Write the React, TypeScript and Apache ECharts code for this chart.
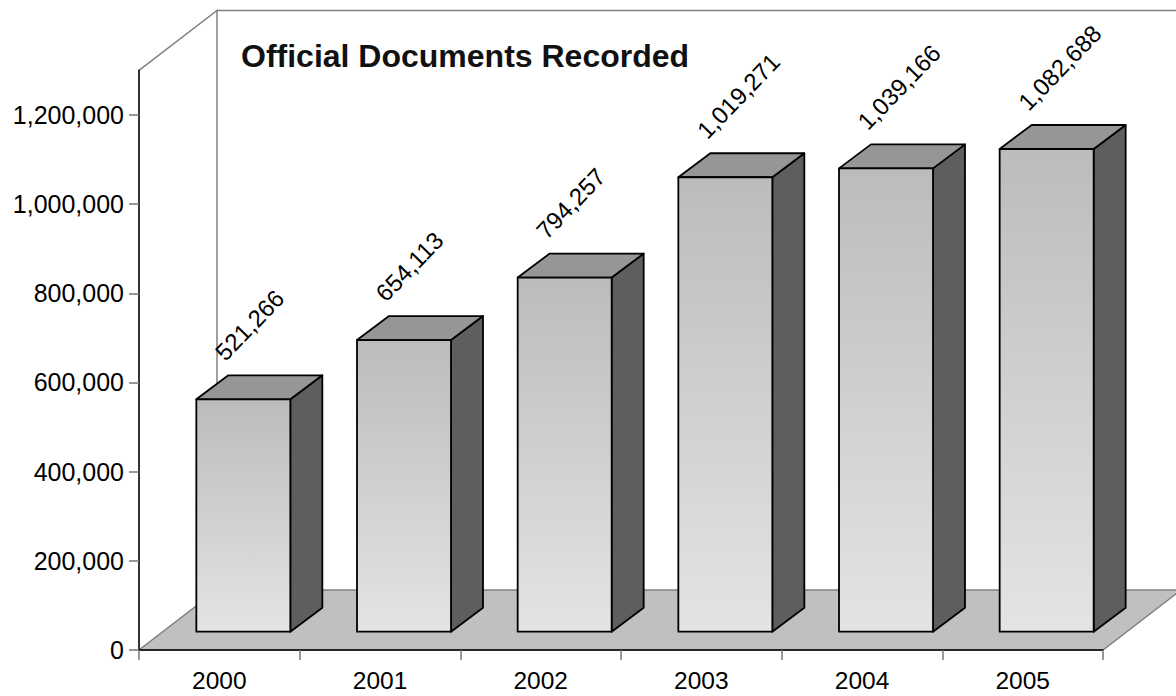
import React, { useEffect, useRef } from "react";
import * as echarts from "echarts";

// Yearly totals of recorded official documents
const categories = ["2000", "2001", "2002", "2003", "2004", "2005"];
const documents = [521266, 654113, 794257, 1019271, 1039166, 1082688];
const yTicks = [0, 200000, 400000, 600000, 800000, 1000000, 1200000];
const yMax = 1300000;

const FONT = "'Liberation Sans', Arial, Helvetica, sans-serif";

// Oblique projection used for the 3D look (pixels)
const WALL_DX = 78;
const WALL_DY = -60;
const BAR_FRONT_DX = 24;
const BAR_FRONT_DY = -18.3;
const BAR_DEPTH_DX = 32;
const BAR_DEPTH_DY = -24;
const BAR_WIDTH_RATIO = 0.585;

const fmt = (v: number) => v.toLocaleString("en-US");

export default function App() {
  const ref = useRef<HTMLDivElement>(null);

  useEffect(() => {
    if (!ref.current) return;
    const chart = echarts.init(ref.current, undefined, { renderer: "svg" });

    const wallRender = (_params: any, api: any) => {
      const band = api.size([1, 0])[0];
      const first = api.coord([0, 0]);
      const last = api.coord([categories.length - 1, 0]);
      const top = api.coord([0, yMax]);
      const L = first[0] - band / 2;
      const R = last[0] + band / 2;
      const B = first[1];
      const T = top[1];
      const wall = { stroke: "#808080", lineWidth: 1.5 };
      return {
        type: "group",
        children: [
          {
            type: "polygon",
            shape: {
              points: [
                [L, B],
                [R, B],
                [R + WALL_DX, B + WALL_DY],
                [L + WALL_DX, B + WALL_DY],
              ],
            },
            style: { fill: "#c0c0c0", stroke: "#808080", lineWidth: 1.5 },
          },
          {
            type: "polyline",
            shape: {
              points: [
                [L + WALL_DX, B + WALL_DY],
                [L + WALL_DX, T + WALL_DY],
                [L, T],
              ],
            },
            style: { ...wall, fill: "none" },
          },
          {
            type: "polyline",
            shape: {
              points: [
                [L + WALL_DX, T + WALL_DY],
                [R + WALL_DX, T + WALL_DY],
                [R + WALL_DX, B + WALL_DY],
              ],
            },
            style: { ...wall, fill: "none" },
          },
        ],
      };
    };

    const barRender = (_params: any, api: any) => {
      const idx = api.value(0);
      const val = api.value(1);
      const topPt = api.coord([idx, val]);
      const basePt = api.coord([idx, 0]);
      const band = api.size([1, 0])[0];
      const w = band * BAR_WIDTH_RATIO;
      const cx = topPt[0] + BAR_FRONT_DX;
      const x0 = cx - w / 2;
      const x1 = cx + w / 2;
      const yT = topPt[1] + BAR_FRONT_DY;
      const yB = basePt[1] + BAR_FRONT_DY;
      const edge = { stroke: "#000", lineWidth: 1.8, lineJoin: "round" };
      return {
        type: "group",
        children: [
          {
            type: "polygon",
            shape: {
              points: [
                [x1, yT],
                [x1 + BAR_DEPTH_DX, yT + BAR_DEPTH_DY],
                [x1 + BAR_DEPTH_DX, yB + BAR_DEPTH_DY],
                [x1, yB],
              ],
            },
            style: { fill: "#5e5e5e", ...edge },
          },
          {
            type: "polygon",
            shape: {
              points: [
                [x0, yT],
                [x1, yT],
                [x1 + BAR_DEPTH_DX, yT + BAR_DEPTH_DY],
                [x0 + BAR_DEPTH_DX, yT + BAR_DEPTH_DY],
              ],
            },
            style: { fill: "#969696", ...edge },
          },
          {
            type: "rect",
            shape: { x: x0, y: yT, width: w, height: yB - yT },
            style: {
              fill: new echarts.graphic.LinearGradient(0, 0, 0, 1, [
                { offset: 0, color: "#bcbcbc" },
                { offset: 1, color: "#e4e4e4" },
              ]),
              ...edge,
            },
          },
          {
            type: "text",
            x: cx - 24,
            y: yT - 43,
            rotation: (46 * Math.PI) / 180,
            style: {
              text: fmt(val),
              textAlign: "left",
              textVerticalAlign: "middle",
              fontSize: 24,
              fontFamily: FONT,
              fill: "#000",
            },
          },
        ],
      };
    };

    chart.setOption({
      animation: false,
      backgroundColor: "#fff",
      title: {
        text: "Official Documents Recorded",
        left: 241,
        top: 40,
        padding: 0,
        textStyle: {
          fontSize: 32,
          fontWeight: "bold",
          fontFamily: FONT,
          color: "#111",
        },
      },
      grid: { left: 139, right: 73, top: 70.4, bottom: 46 },
      xAxis: {
        type: "category",
        data: categories,
        boundaryGap: true,
        z: 5,
        axisLine: { lineStyle: { color: "#000", width: 1.6 } },
        axisTick: {
          show: true,
          length: 10,
          alignWithLabel: false,
          lineStyle: { color: "#777", width: 1.5 },
        },
        axisLabel: {
          fontSize: 24.5,
          fontFamily: FONT,
          color: "#000",
          margin: 18,
        },
        splitLine: { show: false },
      },
      yAxis: {
        type: "value",
        min: 0,
        max: yMax,
        interval: 200000,
        z: 5,
        axisLine: { show: true, lineStyle: { color: "#000", width: 1.6 } },
        axisTick: {
          show: true,
          length: 10,
          customValues: yTicks,
          lineStyle: { color: "#777", width: 1.5 },
        },
        axisLabel: {
          customValues: yTicks,
          formatter: (v: number) => fmt(v),
          fontSize: 25,
          fontFamily: FONT,
          color: "#000",
          margin: 15,
        },
        splitLine: { show: false },
      },
      series: [
        {
          type: "custom",
          name: "walls",
          z: 1,
          silent: true,
          renderItem: wallRender,
          data: [[0, 0]],
          encode: { x: 0, y: 1 },
        },
        {
          type: "custom",
          name: "Official Documents Recorded",
          z: 2,
          renderItem: barRender,
          data: documents.map((v, i) => [i, v]),
          encode: { x: 0, y: 1 },
        },
      ],
    });

    return () => chart.dispose();
  }, []);

  return (
    <div
      ref={ref}
      style={{ position: "fixed", left: 0, top: 0, width: 1176, height: 696 }}
    />
  );
}
